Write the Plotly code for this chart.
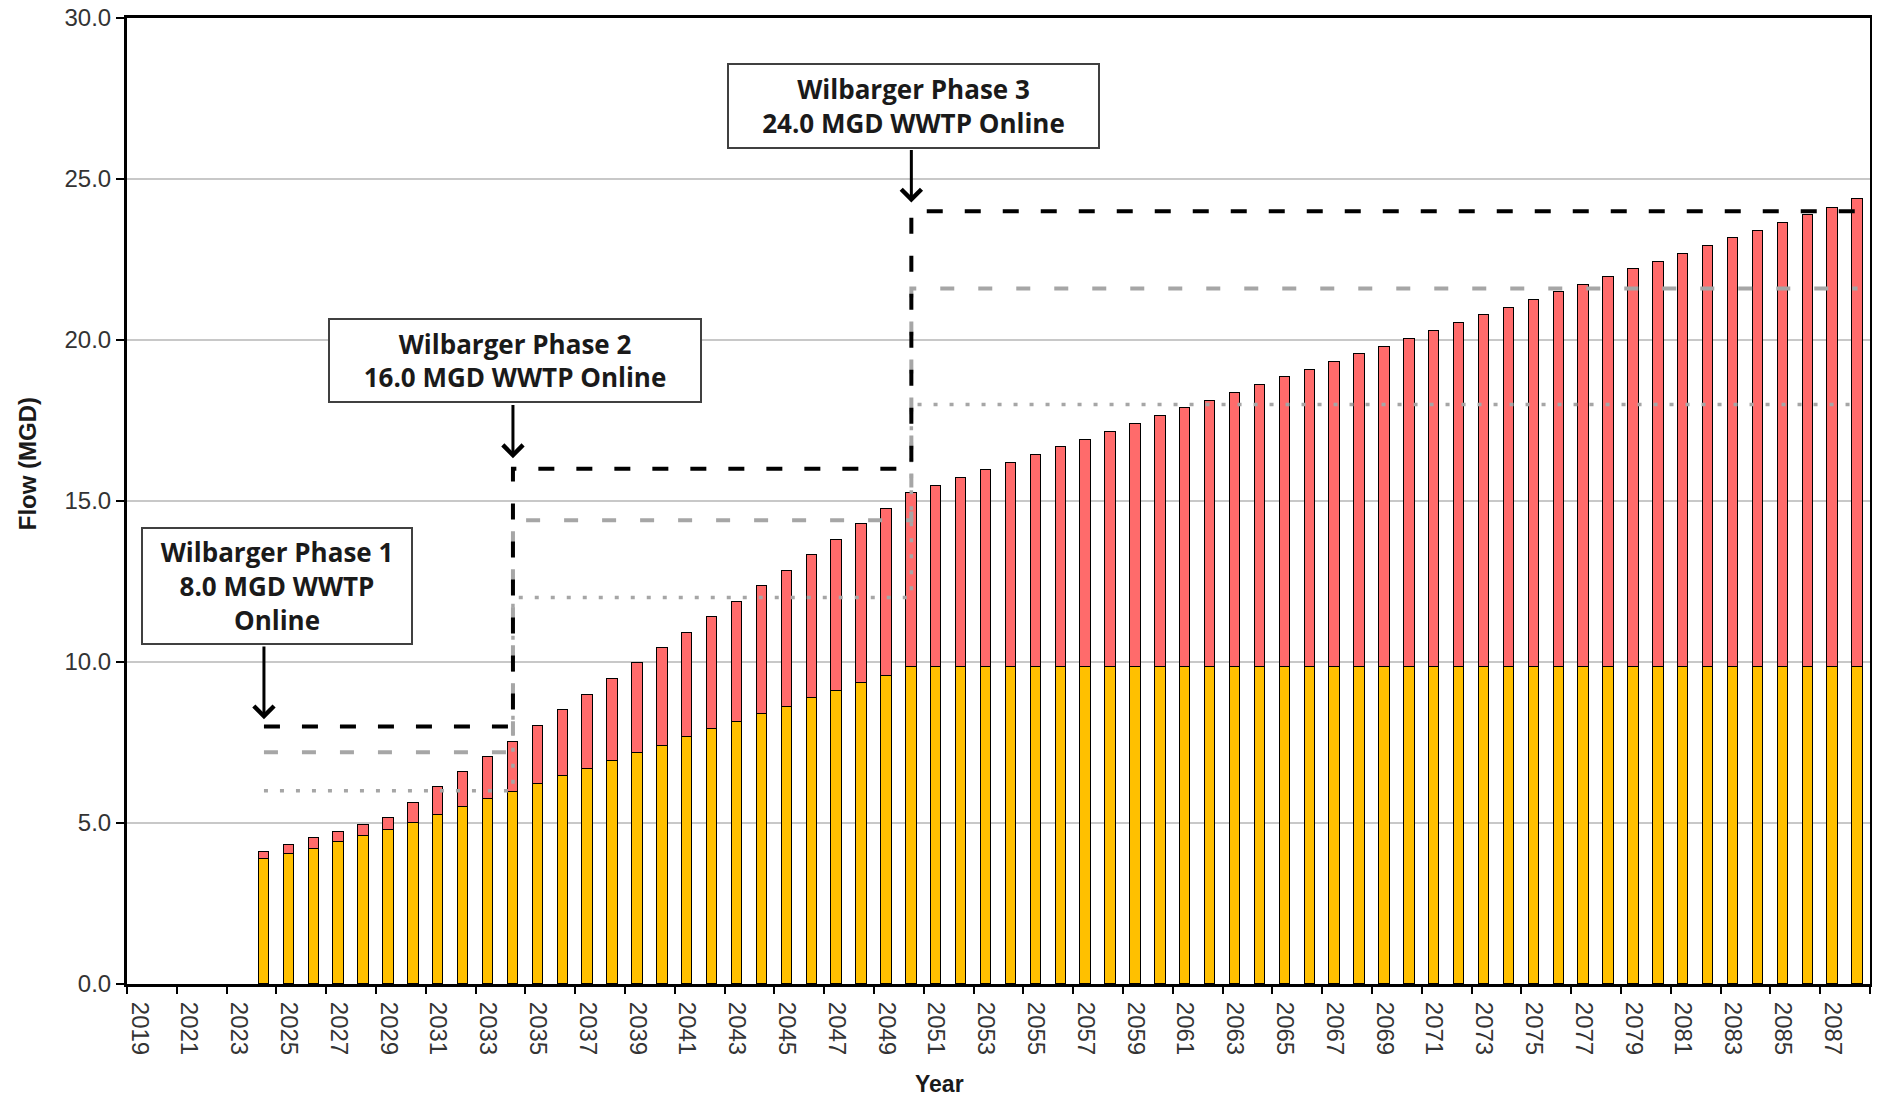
import plotly.graph_objects as go

# ---------------- data ----------------
years = list(range(2019, 2089))

existing_flow = [None, None, None, None, None,
                 3.87, 4.04, 4.20, 4.40, 4.60, 4.78, 5.01, 5.26, 5.50, 5.74,
                 5.96, 6.21, 6.46, 6.69, 6.93, 7.16, 7.39, 7.66, 7.91, 8.15,
                 8.38, 8.61, 8.87, 9.10, 9.36, 9.58, 9.83, 9.83, 9.83, 9.83,
                 9.83, 9.83, 9.83, 9.83, 9.83, 9.83, 9.83, 9.83, 9.83, 9.83,
                 9.83, 9.83, 9.83, 9.83, 9.83, 9.83, 9.83, 9.83, 9.83, 9.83,
                 9.83, 9.83, 9.83, 9.83, 9.83, 9.83, 9.83, 9.83, 9.83, 9.83,
                 9.83, 9.83, 9.83, 9.83, 9.83]

additional_flow = [None, None, None, None, None,
                   0.22, 0.27, 0.32, 0.33, 0.33, 0.37, 0.60, 0.85, 1.08, 1.32,
                   1.57, 1.80, 2.04, 2.30, 2.53, 2.80, 3.04, 3.25, 3.48, 3.70,
                   3.97, 4.23, 4.45, 4.69, 4.92, 5.16, 5.41, 5.64, 5.88, 6.12,
                   6.36, 6.61, 6.84, 7.08, 7.32, 7.57, 7.80, 8.05, 8.28, 8.51,
                   8.76, 9.01, 9.24, 9.49, 9.73, 9.96, 10.20, 10.45, 10.69, 10.94,
                   11.17, 11.40, 11.65, 11.89, 12.13, 12.37, 12.60, 12.85, 13.09, 13.33,
                   13.56, 13.80, 14.04, 14.28, 14.54]

phase_years = [2024, 2034, 2050, 2088]
capacity = [8.0, 16.0, 24.0, 24.0]
capacity_90 = [7.2, 14.4, 21.6, 21.6]
capacity_75 = [6.0, 12.0, 18.0, 18.0]

phase_labels = ["Wilbarger Phase 1<br>8.0 MGD WWTP<br>Online",
                "Wilbarger Phase 2<br>16.0 MGD WWTP Online",
                "Wilbarger Phase 3<br>24.0 MGD WWTP Online"]

x_tick_years = list(range(2019, 2089, 2))
y_ticks = [0, 5, 10, 15, 20, 25, 30]

# ---------------- figure ----------------
fig = go.Figure()

fig.add_trace(go.Bar(x=years, y=existing_flow, width=0.42,
                     marker=dict(color="#FFC000", line=dict(color="#000000", width=1.5)),
                     showlegend=False))
fig.add_trace(go.Bar(x=years, y=additional_flow, width=0.42,
                     marker=dict(color="#FF6B6B", line=dict(color="#000000", width=1.5)),
                     showlegend=False))

fig.add_trace(go.Scatter(x=phase_years, y=capacity_75, mode="lines", line_shape="hv",
                         line=dict(color="#A6A6A6", width=3.5, dash="4px,12px"),
                         showlegend=False))
fig.add_trace(go.Scatter(x=phase_years, y=capacity_90, mode="lines", line_shape="hv",
                         line=dict(color="#A6A6A6", width=4, dash="14px,24px"),
                         showlegend=False))
fig.add_trace(go.Scatter(x=phase_years, y=capacity, mode="lines", line_shape="hv",
                         line=dict(color="#000000", width=4, dash="16px,22px"),
                         showlegend=False))

box_font = dict(family="Open Sans", size=26, color="#1a1a1a")
boxes = [
    dict(x=2024.53, y=12.37, w=272, h=118, label=phase_labels[0], ay0=10.53, head=8.22, xa=2024),
    dict(x=2034.09, y=19.35, w=374, h=85, label=phase_labels[1], ay0=18.03, head=16.33, xa=2034),
    dict(x=2050.08, y=27.28, w=373, h=86, label=phase_labels[2], ay0=25.95, head=24.27, xa=2050),
]
for b in boxes:
    fig.add_annotation(x=b["xa"], y=b["head"], ax=b["xa"], ay=b["ay0"], axref="x", ayref="y",
                       xref="x", yref="y", text="", showarrow=True, arrowhead=4,
                       arrowsize=1.3, arrowwidth=3, arrowcolor="#000000", standoff=0,
                       startstandoff=0)
    fig.add_annotation(x=b["x"], y=b["y"], xref="x", yref="y", text="<b>" + b["label"] + "</b>",
                       showarrow=False, width=b["w"] - 4, height=b["h"] - 4, borderpad=0,
                       bordercolor="#404040", borderwidth=2, bgcolor="#FFFFFF",
                       font=box_font, align="center", valign="middle")

fig.add_annotation(x=-0.0574, y=0.539, xref="paper", yref="paper", text="<b>Flow (MGD)</b>",
                   textangle=-90, showarrow=False, xanchor="center", yanchor="middle",
                   font=dict(family="Liberation Sans", size=24, color="#1a1a1a"))
fig.add_annotation(x=0.466, y=-0.1035, xref="paper", yref="paper", text="<b>Year</b>",
                   showarrow=False, xanchor="center", yanchor="middle",
                   font=dict(family="Liberation Sans", size=23, color="#1a1a1a"))

# The page body adds an 8px offset, so the figure is sized to compensate.
fig.update_layout(
    width=1872, height=1090,
    margin=dict(l=119, r=10, t=10, b=114, autoexpand=False),
    paper_bgcolor="#FFFFFF", plot_bgcolor="#FFFFFF",
    barmode="stack", bargap=0,
    font=dict(family="Liberation Sans", size=24, color="#333333"),
    xaxis=dict(range=[2018.5, 2088.5], tickmode="array", tickvals=x_tick_years,
               ticktext=[str(v) for v in x_tick_years], tickangle=90, automargin=False,
               ticks="outside", ticklen=10, tickcolor="rgba(0,0,0,0)",
               ticklabeloverflow="allow",
               minor=dict(tick0=2018.5, dtick=2, ticks="outside", ticklen=7,
                          tickcolor="#000000", tickwidth=1.5, showgrid=False),
               showgrid=False, zeroline=False,
               showline=True, linecolor="#000000", linewidth=3, mirror=True,
               tickfont=dict(family="Liberation Sans", size=24, color="#333333")),
    yaxis=dict(range=[0, 30], tickmode="array", tickvals=y_ticks, tickformat=".1f",
               ticks="outside", ticklen=8, tickcolor="#000000", tickwidth=1.5, automargin=False,
               ticklabeloverflow="allow",
               showgrid=True, gridcolor="#C8C8C8", gridwidth=1.5, zeroline=False,
               showline=True, linecolor="#000000", linewidth=3, mirror=True,
               tickfont=dict(family="Liberation Sans", size=24, color="#333333")),
)

fig.write_html("out.html")
